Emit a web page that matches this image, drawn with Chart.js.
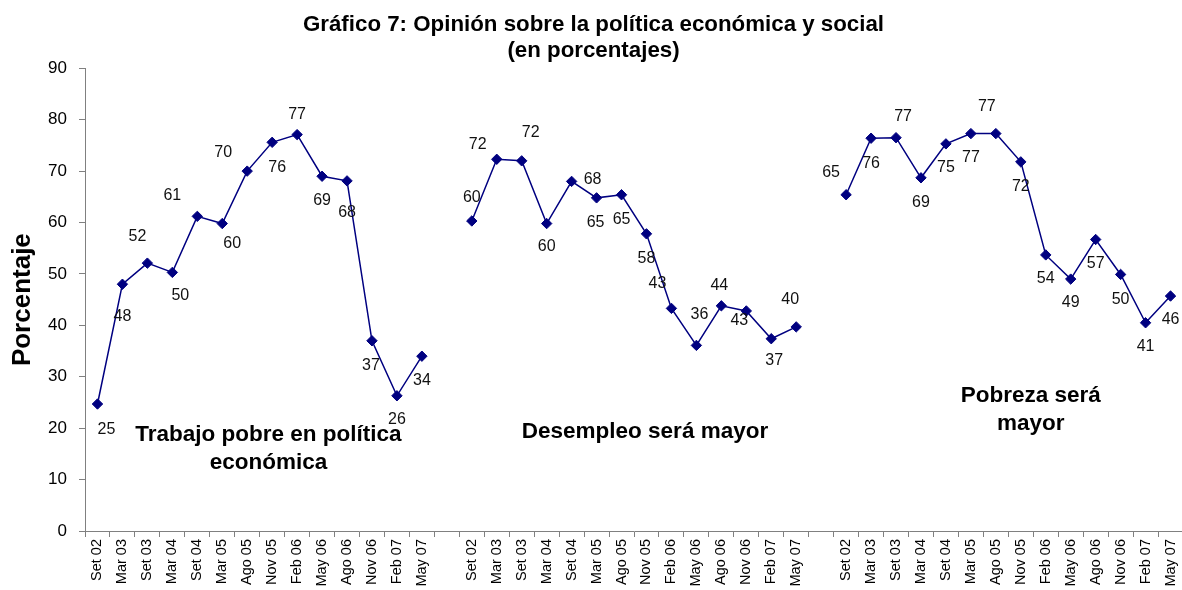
<!DOCTYPE html>
<html><head><meta charset="utf-8">
<script src="https://cdn.jsdelivr.net/npm/chart.js@4.4.1/dist/chart.umd.min.js"></script>
<style>
html,body{margin:0;padding:0;background:#fff;overflow:hidden;width:1182px;height:590px}
#wrap{position:relative;width:1190px;height:590px}
</style>
</head><body><div id="wrap"><canvas id="c" width="1190" height="590"></canvas></div>
<script>
// ---- data ----
const months = ['Set 02','Mar 03','Set 03','Mar 04','Set 04','Mar 05','Ago 05','Nov 05','Feb 06','May 06','Ago 06','Nov 06','Feb 07','May 07'];
const trabajoPobre   = [24.7, 48.0, 52.1, 50.3, 61.2, 59.8, 70.0, 75.6, 77.1, 69.0, 68.1, 37.0, 26.3, 34.0];
const desempleoMayor = [60.3, 72.3, 72.0, 59.8, 68.0, 64.8, 65.4, 57.8, 43.3, 36.1, 43.8, 42.8, 37.4, 39.7];
const pobrezaMayor   = [65.4, 76.4, 76.5, 68.7, 75.3, 77.3, 77.3, 71.8, 53.7, 49.0, 56.7, 49.9, 40.5, 45.7];
const groupNames = [['Trabajo pobre en política','económica'], ['Desempleo será mayor'], ['Pobreza será','mayor']];
const chartTitle = ['Gráfico 7: Opinión sobre la política económica y social','(en porcentajes)'];
const yAxisTitle = 'Porcentaje';
const yMin = 0, yMax = 90, yStep = 10;

// ---- layout / style config (not data) ----
const offTrabajo = [[9,26],[0,32],[-10,-27],[8,23],[-25,-21],[10,20],[-24,-19],[5,25],[0,-20],[0,24],[0,32],[-1,25],[0,24],[0,24]];
const offDesempleo = [[0,-23],[-19,-15],[9,-28],[0,23],[21,-2],[-1,25],[0,25],[0,25],[-14,-25],[3,-31],[-2,-20],[-7,10],[3,22],[-6,-27]];
const offPobreza = [[-15,-22],[0,25],[7,-21],[0,25],[0,24],[0,24],[-9,-27],[0,25],[0,24],[0,24],[0,24],[0,25],[0,24],[0,24]];
const groupNameAnchors = [{x:6.85, y:15.9}, {x:21.94, y:19.2}, {x:37.4, y:23.5}];
const FONT = "'Liberation Sans', Arial, sans-serif";
const NAVY = '#000080';
const AXIS = '#808080';

const labels = [...months, '', ...months, '', ...months];
const values = [...trabajoPobre, null, ...desempleoMayor, null, ...pobrezaMayor];
const offsets = [...offTrabajo, null, ...offDesempleo, null, ...offPobreza];

Chart.defaults.font.family = FONT;
Chart.defaults.color = '#000';

const valueLabels = {
  id: 'valueLabels',
  afterDatasetsDraw(chart) {
    const ctx = chart.ctx;
    const meta = chart.getDatasetMeta(0);
    ctx.save();
    ctx.font = '16px ' + FONT;
    ctx.fillStyle = '#111';
    ctx.textAlign = 'center';
    ctx.textBaseline = 'middle';
    meta.data.forEach((el, i) => {
      const v = values[i];
      if (v === null || !offsets[i]) return;
      ctx.fillText(String(Math.round(v)), el.x + offsets[i][0], el.y + offsets[i][1]);
    });
    // group names
    const xs = chart.scales.x, ys = chart.scales.y;
    ctx.font = 'bold 22.5px ' + FONT;
    ctx.fillStyle = '#000';
    groupNames.forEach((lines, g) => {
      const cx = xs.getPixelForValue(groupNameAnchors[g].x);
      const cy = ys.getPixelForValue(groupNameAnchors[g].y);
      const lh = 28;
      const y0 = cy - (lines.length - 1) * lh / 2;
      lines.forEach((t, k) => ctx.fillText(t, cx, y0 + k * lh));
    });
    ctx.restore();
  }
};

new Chart(document.getElementById('c'), {
  type: 'line',
  data: {
    labels,
    datasets: [{
      data: values,
      borderColor: NAVY,
      backgroundColor: NAVY,
      borderWidth: 1.5,
      pointStyle: 'rectRot',
      pointRadius: 5.2,
      pointBorderWidth: 1,
      pointBackgroundColor: NAVY,
      pointBorderColor: NAVY,
      spanGaps: false,
      tension: 0
    }]
  },
  options: {
    responsive: false,
    animation: false,
    devicePixelRatio: 1,
    layout: { padding: { left: 0, right: 3, top: 0, bottom: 0 } },
    plugins: {
      legend: { display: false },
      tooltip: { enabled: false },
      title: {
        display: true,
        text: chartTitle,
        font: { size: 22.3, weight: 'bold', family: FONT, lineHeight: 1.15 },
        color: '#000',
        padding: { top: 12, bottom: 5 }
      }
    },
    scales: {
      x: {
        type: 'category',
        offset: true,
        grid: { offset: true, drawOnChartArea: false, drawTicks: true, tickLength: 6, color: AXIS, lineWidth: 1 },
        border: { color: AXIS, width: 1 },
        ticks: { autoSkip: false, maxRotation: 90, minRotation: 90, padding: 2, font: { size: 14.5 }, color: '#000' },
        afterFit(scale) { scale.height = 59; }
      },
      y: {
        min: yMin, max: yMax,
        grid: { drawOnChartArea: false, drawTicks: true, tickLength: 6, color: AXIS },
        border: { color: AXIS, width: 1 },
        ticks: { stepSize: yStep, padding: 12, font: { size: 17 }, color: '#000' },
        title: { display: true, text: yAxisTitle, font: { size: 26, weight: 'bold' }, color: '#000', padding: { top: 7, bottom: 0 } },
        afterFit(scale) { scale.width = 85; }
      }
    }
  },
  plugins: [valueLabels]
});
</script>
</body></html>
